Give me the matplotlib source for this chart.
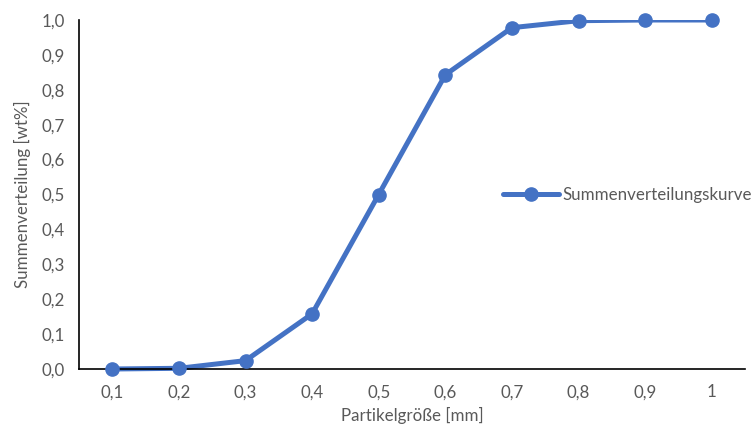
import matplotlib
matplotlib.use("Agg")
import matplotlib.pyplot as plt
from matplotlib.patches import Rectangle

# Particle size classes (mm) and cumulative distribution
size_labels = ["0,1", "0,2", "0,3", "0,4", "0,5", "0,6", "0,7", "0,8", "0,9", "1"]
cumulative = [0.0, 0.002, 0.024, 0.158, 0.5, 0.843, 0.978, 0.998, 1.0, 1.0]
y_ticks = [0.0, 0.1, 0.2, 0.3, 0.4, 0.5, 0.6, 0.7, 0.8, 0.9, 1.0]

plt.rcParams["font.family"] = ["Lato", "DejaVu Sans"]
text_color = "#595959"
line_color = "#4472C4"
fs = 12.2

W, H = 756, 425
fig = plt.figure(figsize=(W / 100, H / 100), dpi=100)
ax = fig.add_axes([79 / W, (H - 369) / H, (745 - 79) / W, 349 / H])

x = list(range(len(size_labels)))
# line clipped only at the top of the plot area, markers drawn in full
line, = ax.plot(x, cumulative, color=line_color, linewidth=3.6,
                solid_capstyle="round", solid_joinstyle="round")
clip = Rectangle((0, -0.1), 1, 1.1, transform=ax.transAxes,
                 facecolor="none", edgecolor="none")
line.set_clip_path(clip)
ax.plot(x, cumulative, linestyle="none", marker="o", markersize=9.5,
        color=line_color, clip_on=False, zorder=3)
# legend proxy combining line and marker
ax.plot([], [], color=line_color, linewidth=3.6, marker="o", markersize=9.5,
        solid_capstyle="round", label="Summenverteilungskurve")

ax.set_xlim(-0.5, len(size_labels) - 0.5)
ax.set_ylim(0, 1.0)
ax.set_xticks(x)
ax.set_xticklabels(size_labels)
ax.set_yticks(y_ticks)
ax.set_yticklabels([f"{v:.1f}".replace(".", ",") for v in y_ticks])
ax.tick_params(axis="both", length=0, labelsize=fs, colors=text_color)
ax.tick_params(axis="y", pad=10)
ax.tick_params(axis="x", pad=11)

for side in ("top", "right"):
    ax.spines[side].set_visible(False)
for side in ("left", "bottom"):
    ax.spines[side].set_color("black")
    ax.spines[side].set_linewidth(1.2)

ax.set_xlabel("Partikelgröße [mm]", fontsize=fs, color=text_color, labelpad=5)
ax.set_ylabel("Summenverteilung [wt%]", fontsize=fs, color=text_color, labelpad=8)

leg = fig.legend(loc="center left", bbox_to_anchor=(503 / W, 1 - 195 / H),
                 frameon=False, fontsize=fs, handlelength=3.3, handletextpad=0.2,
                 borderpad=0, borderaxespad=0, numpoints=1)
for t in leg.get_texts():
    t.set_color(text_color)

fig.savefig("out.png", dpi=100)
